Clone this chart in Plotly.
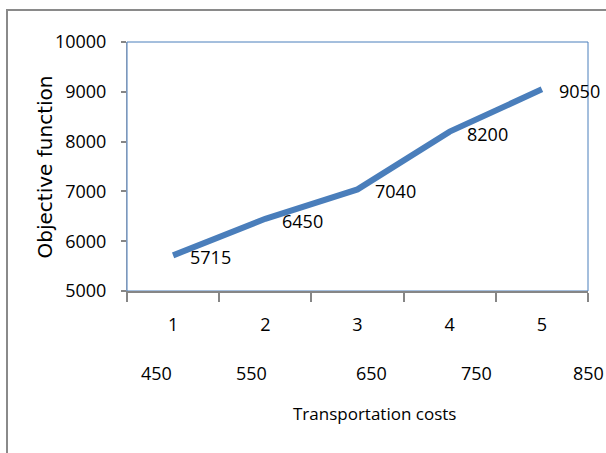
import plotly.graph_objects as go

# ---- data ----
categories = ["1", "2", "3", "4", "5"]
objective_values = [5715, 6450, 7040, 8200, 9050]
cost_labels = ["450", "550", "650", "750", "850"]
cost_label_x = [0.063, 0.269, 0.531, 0.759, 1.002]  # paper positions of second-row labels
y_ticks = [5000, 6000, 7000, 8000, 9000, 10000]
y_tick_text = ["5000", "6000", "7000", "8000", "9000", "10000"]

NUM_FONT = "Liberation Sans Narrow, Open Sans, sans-serif"
NUM_SIZE = 18
LINE_BLUE = "#4a7ebb"
AXIS_GRAY = "#868686"

fig = go.Figure()
fig.add_trace(go.Scatter(
    x=categories, y=objective_values, mode="lines",
    line=dict(color=LINE_BLUE, width=6),
    showlegend=False, hoverinfo="skip",
))

annotations = []
# data labels
for i, v in enumerate(objective_values):
    annotations.append(dict(
        x=i, y=v, xref="x", yref="y", text=str(v), showarrow=False,
        xanchor="left", yanchor="middle", xshift=15, yshift=-2,
        font=dict(family=NUM_FONT, size=NUM_SIZE, color="black"),
    ))
# second-row category labels
for lab, px in zip(cost_labels, cost_label_x):
    annotations.append(dict(
        x=px, y=-0.33, xref="paper", yref="paper", text=lab, showarrow=False,
        xanchor="center", yanchor="middle",
        font=dict(family=NUM_FONT, size=NUM_SIZE, color="black"),
    ))
# x title
annotations.append(dict(
    x=0.536, y=-0.49, xref="paper", yref="paper", text="Transportation costs",
    showarrow=False, xanchor="center", yanchor="middle",
    font=dict(family=NUM_FONT, size=17, color="black"),
))
# y title
annotations.append(dict(
    x=-0.178, y=0.5, xref="paper", yref="paper", text="Objective function",
    showarrow=False, textangle=-90, xanchor="center", yanchor="middle",
    font=dict(family="DejaVu Sans", size=20, color="black"),
))

shapes = [
    # outer chart border (extends beyond the visible window)
    dict(type="rect", xref="paper", yref="paper", x0=-0.2603, x1=1.06, y0=-0.70, y1=1.1285,
         line=dict(color="#8a8a8a", width=2), layer="below"),
    # plot area border
    dict(type="rect", xref="paper", yref="paper", x0=0, x1=1, y0=0, y1=1,
         line=dict(color=LINE_BLUE, width=1), layer="below"),
]

fig.update_layout(
    width=606, height=453,
    margin=dict(l=127, r=18, t=42, b=162),
    paper_bgcolor="white", plot_bgcolor="white",
    annotations=annotations, shapes=shapes,
    xaxis=dict(
        type="category", categoryorder="array", categoryarray=categories,
        range=[-0.5, 4.5], tickson="boundaries",
        ticks="outside", ticklen=9, tickcolor=AXIS_GRAY, tickwidth=1.5,
        showline=True, linecolor=AXIS_GRAY, linewidth=1.5,
        showgrid=False, zeroline=False,
        ticklabelstandoff=17,
        tickfont=dict(family=NUM_FONT, size=NUM_SIZE, color="black"),
    ),
    yaxis=dict(
        range=[5000, 10000], tickvals=y_ticks, ticktext=y_tick_text,
        ticks="outside", ticklen=5, tickcolor=AXIS_GRAY, tickwidth=1.5,
        showline=True, linecolor="#7f97b8", linewidth=1,
        showgrid=False, zeroline=False,
        ticklabelstandoff=11,
        tickfont=dict(family=NUM_FONT, size=NUM_SIZE, color="black"),
    ),
)

fig.write_html(
    "out.html",
    config={"displayModeBar": False},
    post_script="document.body.style.margin='0';document.body.style.padding='0';",
)
